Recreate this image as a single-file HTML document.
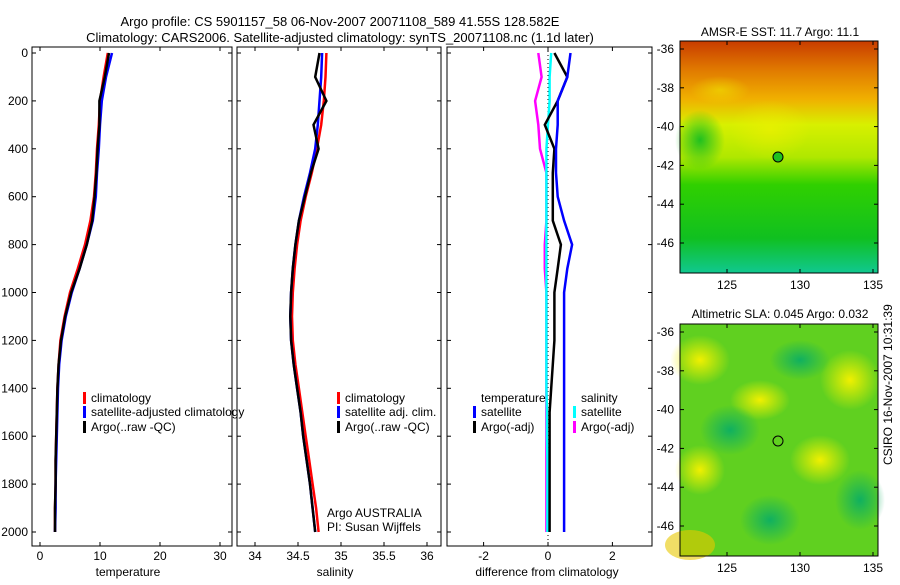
<!DOCTYPE html>
<html><head><meta charset="utf-8"><style>
body{margin:0;background:#fff;}
svg{font-family:"Liberation Sans",sans-serif;font-size:12px;}
</style></head><body>
<svg id="c" width="900" height="580">
<defs>
<linearGradient id="sst" x1="0" y1="0" x2="0" y2="1">
<stop offset="0" stop-color="#c83c00"/><stop offset="0.12" stop-color="#e07800"/>
<stop offset="0.25" stop-color="#f0b000"/><stop offset="0.36" stop-color="#d8f000"/>
<stop offset="0.5" stop-color="#b0e800"/><stop offset="0.62" stop-color="#30d000"/>
<stop offset="0.85" stop-color="#10c020"/><stop offset="1" stop-color="#10c890"/></linearGradient>
<radialGradient id="ylw"><stop offset="0" stop-color="#f0f000"/><stop offset="1" stop-color="#f0f000" stop-opacity="0"/></radialGradient>
<radialGradient id="blu"><stop offset="0" stop-color="#10b060"/><stop offset="1" stop-color="#10b060" stop-opacity="0"/></radialGradient>
<radialGradient id="grn"><stop offset="0" stop-color="#20c020"/><stop offset="1" stop-color="#20c020" stop-opacity="0"/></radialGradient>
</defs>
<text x="340" y="26" text-anchor="middle" font-size="13">Argo profile: CS 5901157_58 06-Nov-2007 20071108_589 41.55S 128.582E</text>
<text x="340" y="42" text-anchor="middle" font-size="13">Climatology: CARS2006. Satellite-adjusted climatology: synTS_20071108.nc (1.1d later)</text>
<g id="maps">
<text x="780" y="36" text-anchor="middle">AMSR-E SST: 11.7 Argo: 11.1</text>
<rect x="680" y="41" width="198" height="232" fill="url(#sst)"/>
<ellipse x="0" cx="720" cy="90" rx="30" ry="14" fill="url(#ylw)" opacity="0.5"/>
<ellipse cx="700" cy="140" rx="25" ry="30" fill="url(#grn)"/>
<ellipse cx="770" cy="130" rx="40" ry="30" fill="url(#ylw)" opacity="0.6"/>
<rect x="680" y="41" width="198" height="232" fill="none" stroke="#000"/>
<circle cx="778" cy="157" r="5" fill="#20c020" stroke="#000"/>
<text x="780" y="318" text-anchor="middle">Altimetric SLA: 0.045 Argo: 0.032</text>
<rect x="680" y="324" width="198" height="232" fill="#60d020"/>
<ellipse cx="700" cy="360" rx="30" ry="25" fill="url(#ylw)"/>
<ellipse cx="760" cy="400" rx="30" ry="20" fill="url(#ylw)"/>
<ellipse cx="850" cy="380" rx="30" ry="30" fill="url(#ylw)"/>
<ellipse cx="820" cy="460" rx="30" ry="25" fill="url(#ylw)"/>
<ellipse cx="700" cy="470" rx="25" ry="25" fill="url(#ylw)"/>
<ellipse cx="730" cy="430" rx="30" ry="25" fill="url(#blu)"/>
<ellipse cx="800" cy="360" rx="30" ry="20" fill="url(#blu)"/>
<ellipse cx="860" cy="500" rx="25" ry="30" fill="url(#blu)"/>
<ellipse cx="770" cy="520" rx="30" ry="25" fill="url(#blu)"/>
<ellipse cx="690" cy="545" rx="25" ry="15" fill="#e8c800" opacity="0.6"/>
<rect x="680" y="324" width="198" height="232" fill="none" stroke="#000"/>
<circle cx="778" cy="441" r="5" fill="none" stroke="#000"/>
<text transform="translate(892,465) rotate(-90)">CSIRO 16-Nov-2007 10:31:39</text>
</g>
</svg>
<script>
const depths=[0,100,200,300,400,500,600,700,800,900,1000,1100,1200,1300,1400,1500,1600,1700,1800,1900,2000];
const tClim=[11.3,10.6,10.0,9.8,9.5,9.3,9.0,8.4,7.5,6.3,5.0,4.1,3.4,3.1,2.9,2.8,2.7,2.6,2.6,2.5,2.5];
const tSat=[12.0,11.0,10.3,10.0,9.8,9.5,9.3,8.8,7.8,6.6,5.3,4.3,3.6,3.2,3.0,2.9,2.8,2.7,2.6,2.6,2.5];
const tArgo=[11.5,10.8,9.9,9.9,9.6,9.4,9.1,8.7,7.8,6.6,5.2,4.2,3.5,3.1,2.9,2.8,2.7,2.6,2.6,2.5,2.5];
const sClim=[34.83,34.82,34.80,34.77,34.72,34.66,34.59,34.53,34.49,34.46,34.44,34.43,34.44,34.47,34.51,34.55,34.59,34.63,34.67,34.71,34.74];
const sSat=[34.78,34.77,34.75,34.73,34.70,34.64,34.57,34.51,34.47,34.44,34.42,34.41,34.42,34.45,34.49,34.53,34.56,34.60,34.64,34.67,34.70];
const sArgo=[34.75,34.70,34.83,34.68,34.74,34.65,34.58,34.51,34.47,34.44,34.42,34.41,34.42,34.45,34.49,34.53,34.56,34.60,34.64,34.67,34.70];
const dTSat=[0.7,0.6,0.3,0.3,0.25,0.25,0.3,0.5,0.75,0.6,0.5,0.5,0.5,0.5,0.5,0.5,0.5,0.5,0.5,0.5,0.5];
const dTArgo=[0.2,0.6,0.3,-0.1,0.2,0.15,0.15,0.15,0.4,0.3,0.2,0.2,0.2,0.15,0.1,0.05,0.05,0.05,0.05,0.05,0.05];
const dSSat=[0.1,0.05,0.05,0.0,-0.05,-0.05,-0.05,-0.05,-0.05,-0.05,-0.05,-0.05,-0.05,-0.05,-0.05,-0.03,-0.03,-0.02,-0.02,-0.02,-0.02];
const dSArgo=[-0.3,-0.2,-0.4,-0.3,-0.25,-0.05,-0.05,-0.05,-0.1,-0.1,-0.05,-0.05,-0.05,-0.05,-0.05,-0.05,-0.05,-0.05,-0.05,-0.05,-0.05];
const yTicks=[0,200,400,600,800,1000,1200,1400,1600,1800,2000];
const tTicks=[0,10,20,30], sTicks=[34,34.5,35,35.5,36], dTicks=[-2,0,2];
const mapXTicks=[125,130,135], mapYTicks=[-36,-38,-40,-42,-44,-46];
const svg=document.getElementById('c'), NS='http://www.w3.org/2000/svg';
function mk(t,a,txt){const e=document.createElementNS(NS,t);for(const k in a)e.setAttribute(k,a[k]);if(txt!==undefined)e.textContent=txt;svg.appendChild(e);return e;}
const yS=d=>53+d*(532-53)/2000;
const panels=[
 {x0:32,x1:232,sx:v=>40+v*6,ticks:tTicks,label:'temperature',lx:128},
 {x0:237,x1:441,sx:v=>255+(v-34)*86,ticks:sTicks,label:'salinity',lx:335},
 {x0:447,x1:652,sx:v=>548+v*32.2,ticks:dTicks,label:'difference from climatology',lx:547}];
panels.forEach((p,i)=>{
 let r=mk('rect',{x:p.x0,y:47,width:p.x1-p.x0,height:499,fill:'none',stroke:'#000'});
 
 
 yTicks.forEach(d=>{const y=yS(d);
  mk('line',{x1:p.x0,x2:p.x0+4,y1:y,y2:y,stroke:'#000'});mk('line',{x1:p.x1,x2:p.x1-4,y1:y,y2:y,stroke:'#000'});
  if(i==0){const t=mk('text',{x:28,y:y+4,'text-anchor':'end'},d);}});
 p.ticks.forEach(v=>{const x=p.sx(v);
  mk('line',{x1:x,x2:x,y1:546,y2:542,stroke:'#000'});mk('line',{x1:x,x2:x,y1:47,y2:51,stroke:'#000'});
  const t=mk('text',{x:x,y:560,'text-anchor':'middle'},v<0?'-'+Math.abs(v):v);});
 const l=mk('text',{x:p.lx,y:576,'text-anchor':'middle'},p.label);
 
 
});
function line(p,vals,col,name){
 const pts=vals.map((v,k)=>p.sx(v).toFixed(1)+','+yS(depths[k]).toFixed(1)).join(' ');
 const e=mk('polyline',{points:pts,fill:'none',stroke:col,'stroke-width':2.5});
 
 
}
mk('line',{x1:548,x2:548,y1:47,y2:546,stroke:'#000','stroke-dasharray':'1,3'});
line(panels[0],tClim,'#f00','temp-climatology-line');line(panels[0],tSat,'#00f','temp-satellite-line');line(panels[0],tArgo,'#000','temp-argo-line');
line(panels[1],sClim,'#f00','sal-climatology-line');line(panels[1],sSat,'#00f','sal-satellite-line');line(panels[1],sArgo,'#000','sal-argo-line');
line(panels[2],dSArgo,'#f0f','diff-sal-argo-line');line(panels[2],dSSat,'#0ff','diff-sal-satellite-line');
line(panels[2],dTArgo,'#000','diff-temp-argo-line');line(panels[2],dTSat,'#00f','diff-temp-satellite-line');
function leg(x,y,col,txt,name){
 if(col)mk('rect',{x:x,y:y-10,width:3,height:12,fill:col});
 const t=mk('text',{x:x+8,y:y},txt);
 
 
}
leg(83,402,'#f00','climatology','legend-climatology');leg(83,416,'#00f','satellite-adjusted climatology','legend-satellite');leg(83,431,'#000','Argo(..raw -QC)','legend-argo');
leg(337,402,'#f00','climatology','legend2-climatology');leg(337,416,'#00f','satellite adj. clim.','legend2-satellite');leg(337,431,'#000','Argo(..raw -QC)','legend2-argo');
leg(473,402,null,'temperature','legend3-temperature-head');leg(473,416,'#00f','satellite','legend3-temp-satellite');leg(473,431,'#000','Argo(-adj)','legend3-temp-argo');
leg(573,402,null,'salinity','legend3-salinity-head');leg(573,416,'#0ff','satellite','legend3-sal-satellite');leg(573,431,'#f0f','Argo(-adj)','legend3-sal-argo');
leg(319,517,null,'Argo AUSTRALIA','agency-label');leg(319,531,null,'PI: Susan Wijffels','pi-label');
// map axes
[[41,273],[324,556]].forEach(([y0,y1],m)=>{
 const mx=v=>727+(v-125)*14.6, my=v=>y0+8+(-36-v)*19.4;
 mapXTicks.forEach(v=>{const x=mx(v);mk('line',{x1:x,x2:x,y1:y1,y2:y1-4,stroke:'#000'});mk('line',{x1:x,x2:x,y1:y0,y2:y0+4,stroke:'#000'});
  const t=mk('text',{x:x,y:y1+16,'text-anchor':'middle'},v);});
 mapYTicks.forEach(v=>{const y=my(v);mk('line',{x1:680,x2:684,y1:y,y2:y,stroke:'#000'});mk('line',{x1:878,x2:874,y1:y,y2:y,stroke:'#000'});
  const t=mk('text',{x:674,y:y+4,'text-anchor':'end'},v);});
});
</script>
</body></html>
